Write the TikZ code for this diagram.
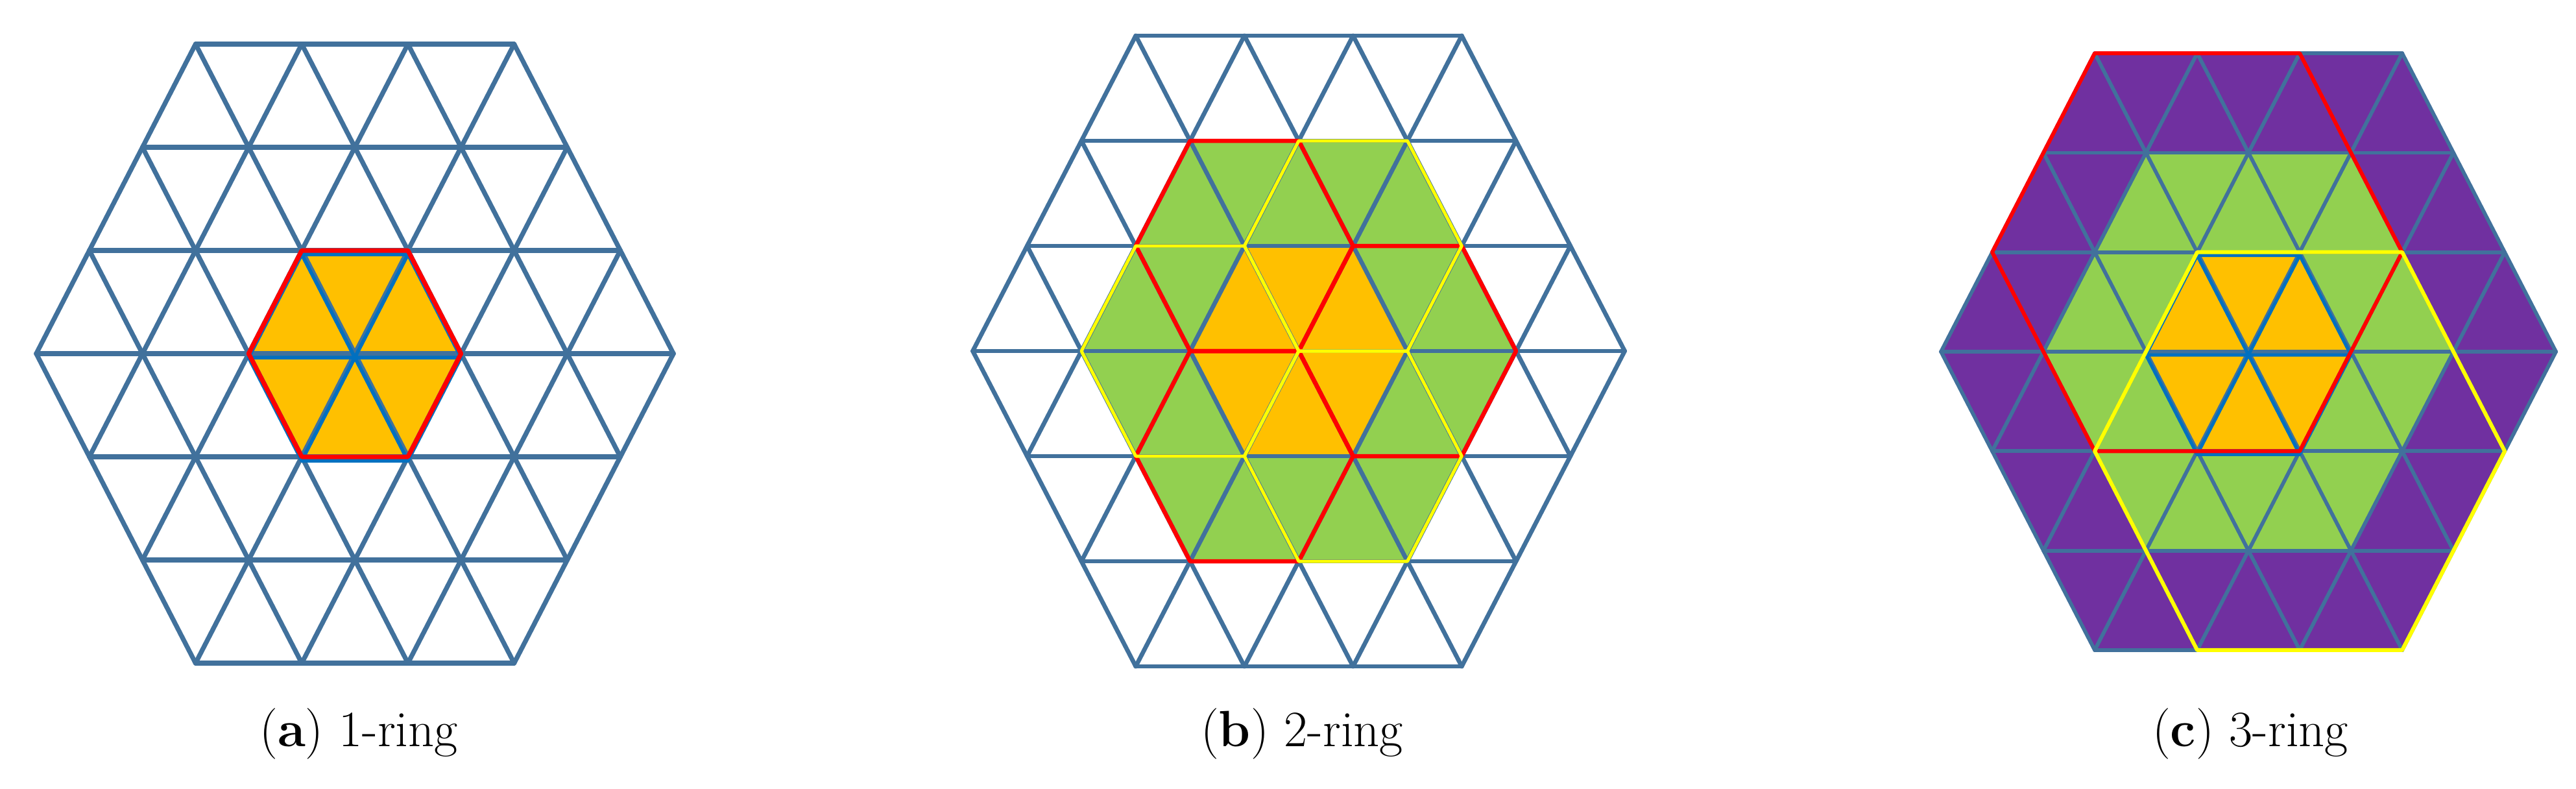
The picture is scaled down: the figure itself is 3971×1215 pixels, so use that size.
\documentclass[tikz,border=0pt]{standalone}
\definecolor{gridblue}{RGB}{65,113,156}
\definecolor{brightblue}{RGB}{0,112,192}
\definecolor{ringorange}{RGB}{255,192,0}
\definecolor{ringgreen}{RGB}{146,208,80}
\definecolor{ringpurple}{RGB}{112,48,160}
\definecolor{ringred}{RGB}{255,0,0}
\definecolor{ringyellow}{RGB}{255,255,0}
\tikzset{
  gridline/.style={draw=gridblue, line width=1.45pt, line cap=round},
  innerline/.style={draw=brightblue, line width=1.1pt, line cap=round, line join=round},
  redline/.style={draw=ringred, line width=1.4pt, line join=round, line cap=round},
  yellowline/.style={draw=ringyellow, line width=1.0pt, line join=round, line cap=round},
  captiontext/.style={font=\fontsize{15.7}{18}\selectfont, anchor=base, inner sep=0pt},
}
% full triangular grid of a hexagon of side 3, in (u,k) units
\newcommand\mygrid[1]{%
  \foreach \kk in {-3,...,3}{%
    \pgfmathsetmacro\ww{3-abs(\kk)/2}%
    \draw[gridline,#1] (-\ww,\kk) -- (\ww,\kk);
  }%
  \foreach \cc in {-3,...,3}{%
    \pgfmathsetmacro\ka{max(-3,-3-\cc)}%
    \pgfmathsetmacro\kb{min(3,3-\cc)}%
    \draw[gridline,#1] ({\cc+\ka/2},\ka) -- ({\cc+\kb/2},\kb);
    \pgfmathsetmacro\kc{max(-3,-3+\cc)}%
    \pgfmathsetmacro\kd{min(3,3+\cc)}%
    \draw[gridline,#1] ({\cc-\kc/2},\kc) -- ({\cc-\kd/2},\kd);
  }%
}
% hexagon: style, centre u, centre k, side
\newcommand\drawhex[4]{%
  \path[#1] ({#2-#4},{#3}) -- ({#2-#4/2},{#3-#4}) -- ({#2+#4/2},{#3-#4}) --
    ({#2+#4},{#3}) -- ({#2+#4/2},{#3+#4}) -- ({#2-#4/2},{#3+#4}) -- cycle;%
}
\begin{document}
\begin{tikzpicture}[x=0.2pt,y=-0.2pt]
\useasboundingbox (0,0) rectangle (3971,1215);
\fill[white] (0,0) rectangle (3971,1215);

% ---------- (a) 1-ring ----------
\begin{scope}[shift={(109.4pt,-109pt)},x=32.74pt,y=-31.8pt]
  \drawhex{fill=ringorange}{0}{0}{1}
  \mygrid{}
  \begin{scope}[yshift=-1.2pt]
    \drawhex{innerline}{0}{0}{1}
    \draw[innerline] (-1,0) -- (1,0) (-0.5,-1) -- (0.5,1) (0.5,-1) -- (-0.5,1);
  \end{scope}
  \drawhex{redline}{0}{0}{1}
\end{scope}

% ---------- (b) 2-ring ----------
\begin{scope}[shift={(400.4pt,-108.2pt)},x=33.5pt,y=-32.4pt]
  \drawhex{fill=ringgreen}{0}{0}{2}
  \drawhex{fill=ringorange}{0}{0}{1}
  \mygrid{line width=1.35pt}
  \drawhex{redline,line width=1.3pt}{-0.5}{-1}{1}
  \drawhex{redline,line width=1.3pt}{1}{0}{1}
  \drawhex{redline,line width=1.3pt}{-0.5}{1}{1}
  \drawhex{yellowline}{0.5}{-1}{1}
  \drawhex{yellowline}{-1}{0}{1}
  \drawhex{yellowline}{0.5}{1}{1}
\end{scope}

% ---------- (c) 3-ring ----------
\begin{scope}[shift={(693.2pt,-108.4pt)},x=31.6pt,y=-30.66pt]
  \drawhex{fill=ringpurple}{0}{0}{3}
  \drawhex{fill=ringgreen}{0}{0}{2}
  \drawhex{fill=ringorange}{0}{0}{1}
  \mygrid{line width=1.15pt}
  \begin{scope}[yshift=-1pt]
    \drawhex{innerline,line width=1.0pt}{0}{0}{1}
    \draw[innerline,line width=1.0pt] (-1,0) -- (1,0) (-0.5,-1) -- (0.5,1) (0.5,-1) -- (-0.5,1);
  \end{scope}
  \drawhex{redline,line width=1.2pt}{-0.5}{-1}{2}
  \drawhex{yellowline,line width=1.2pt}{0.5}{1}{2}
\end{scope}

% ---------- captions ----------
\node[captiontext] (capa) at (553,1150) {(\textbf{a}) 1-ring};
\node[captiontext] (capb) at (2007,1150) {(\textbf{b}) 2-ring};
\node[captiontext] (capc) at (3469,1150) {(\textbf{c}) 3-ring};
\end{tikzpicture}
\end{document}
